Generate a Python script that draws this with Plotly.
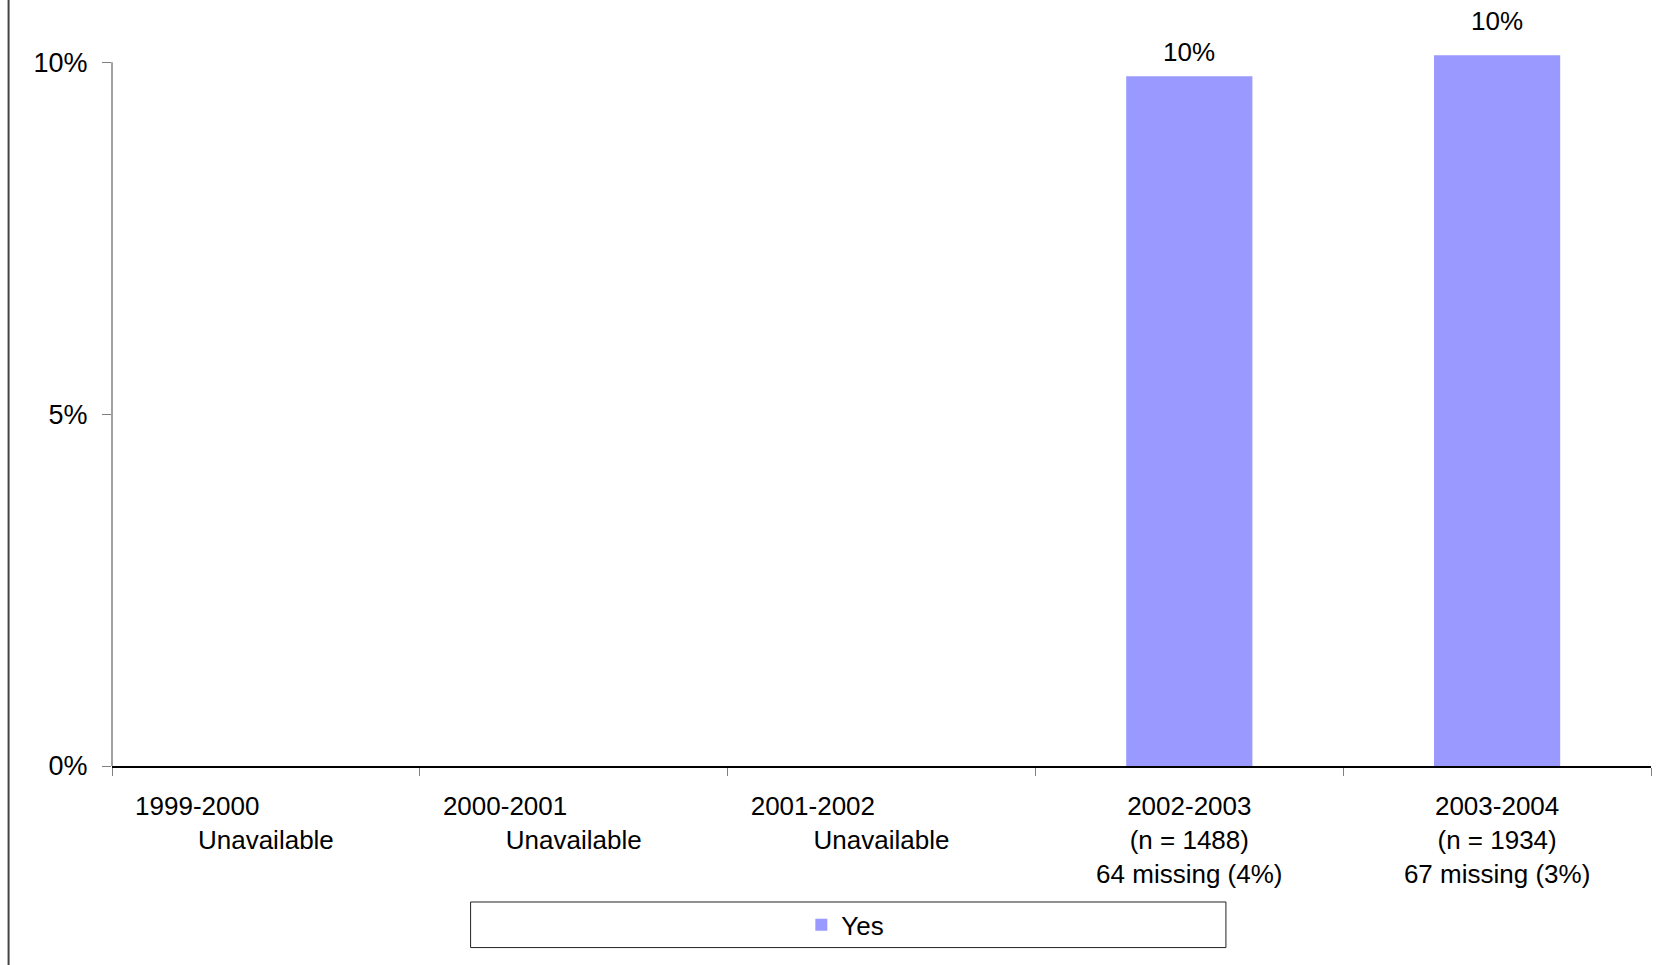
import plotly.graph_objects as go

NB = "\u00a0"
years = ["1999-2000", "2000-2001", "2001-2002", "2002-2003", "2003-2004"]
details = [
    ["Unavailable"],
    ["Unavailable"],
    ["Unavailable"],
    ["(n = 1488)", "64 missing (4%)"],
    ["(n = 1934)", "67 missing (3%)"],
]
yes_values = [None, None, None, 9.8, 10.1]
value_labels = ["", "", "", "10%", "10%"]
label_offsets = [0, 0, 0, 24, 34]
y_ticks = [0, 5, 10]
y_tick_text = ["0%", "5%", "10%"]

FONT = "Liberation Sans, Arial, sans-serif"

def make_label(year, det):
    if det == ["Unavailable"]:
        return year + NB * 19 + "<br>" + det[0]
    return "<br>".join([year] + det)

tick_labels = [make_label(y, d) for y, d in zip(years, details)]

fig = go.Figure()
fig.add_trace(go.Bar(
    x=years, y=yes_values, name="Yes",
    marker=dict(color="#9999FF", line=dict(width=0)),
))

for cat, val, lab, off in zip(years, yes_values, value_labels, label_offsets):
    if val is None:
        continue
    fig.add_annotation(x=cat, y=val, xref="x", yref="y", text=lab, showarrow=False,
                       yanchor="middle", yshift=off, borderpad=0,
                       font=dict(family=FONT, size=26, color="#000000"))

# y axis line (only to 10%)
fig.add_shape(type="line", xref="paper", yref="y", x0=0, x1=0, y0=0, y1=10,
              line=dict(color="#808080", width=1.5))
# legend box
fig.add_shape(type="rect", xref="paper", yref="paper", x0=0.233, x1=0.7238,
              y0=-0.2434, y1=-0.1823, line=dict(color="#222222", width=1))
# left border line
fig.add_shape(type="line", xref="paper", yref="paper", x0=-0.0672, x1=-0.0672,
              y0=-0.2668, y1=1.0268, line=dict(color="#444444", width=2))

fig.update_layout(
    width=1662, height=965,
    margin=dict(l=112, r=11, t=20, b=199, autoexpand=False),
    paper_bgcolor="white", plot_bgcolor="white",
    bargap=0.59,
    font=dict(family=FONT, size=26, color="#000000"),
    showlegend=True,
    legend=dict(x=0.4765, xanchor="center", y=-0.2131, yanchor="middle",
                orientation="h", bgcolor="rgba(0,0,0,0)", borderwidth=0,
                font=dict(family=FONT, size=26, color="#000000")),
    xaxis=dict(
        type="category", tickmode="array", tickvals=years, ticktext=tick_labels,
        tickson="boundaries", ticks="outside", ticklen=8, tickcolor="#808080",
        showline=True, linecolor="#000000", linewidth=1.5,
        showgrid=False, zeroline=False, tickangle=0, automargin=False,
        tickfont=dict(family=FONT, size=26, color="#000000"),
        ticklabelstandoff=16,
    ),
    yaxis=dict(
        range=[0, 10.6], tickmode="array", tickvals=y_ticks, ticktext=y_tick_text,
        ticks="outside", ticklen=9, tickcolor="#808080",
        showline=False, showgrid=False, zeroline=False, automargin=False,
        tickfont=dict(family=FONT, size=27, color="#000000"),
        ticklabelstandoff=9,
    ),
)

fig.write_html("out.html", config={"displayModeBar": False},
               post_script="document.body.style.margin='0';document.body.style.overflow='hidden';")
